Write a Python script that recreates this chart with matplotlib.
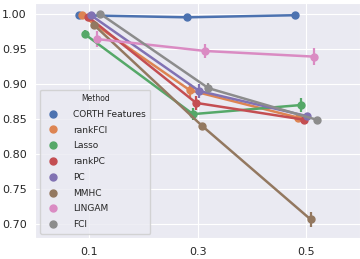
import matplotlib
matplotlib.use("Agg")
import matplotlib.pyplot as plt
import numpy as np
import seaborn as sns

sns.set_style("darkgrid")

noise = ["0.1", "0.3", "0.5"]
methods = ["CORTH Features", "rankFCI", "Lasso", "rankPC", "PC", "MMHC", "LINGAM", "FCI"]
colors = ["#4C72B0", "#DD8452", "#55A868", "#C44E52", "#8172B3", "#937860", "#DA8BC3", "#8C8C8C"]

# mean score per method at each noise level
means = {
    "CORTH Features": [0.998, 0.995, 0.998],
    "rankFCI": [0.998, 0.891, 0.852],
    "Lasso": [0.971, 0.857, 0.870],
    "rankPC": [0.996, 0.873, 0.849],
    "PC": [0.998, 0.890, 0.854],
    "MMHC": [0.984, 0.840, 0.707],
    "LINGAM": [0.964, 0.947, 0.939],
    "FCI": [1.000, 0.894, 0.849],
}
# half-width of the error bars
errs = {
    "CORTH Features": [0.001, 0.001, 0.001],
    "rankFCI": [0.002, 0.009, 0.004],
    "Lasso": [0.006, 0.009, 0.010],
    "rankPC": [0.003, 0.010, 0.005],
    "PC": [0.002, 0.010, 0.004],
    "MMHC": [0.004, 0.004, 0.011],
    "LINGAM": [0.011, 0.010, 0.012],
    "FCI": [0.002, 0.008, 0.002],
}

fig, ax = plt.subplots(figsize=(3.6, 2.59), dpi=100)
x = np.arange(len(noise))
offsets = np.linspace(-0.1, 0.1, len(methods))

for m, c, off in zip(methods, colors, offsets):
    ax.errorbar(x + off, means[m], yerr=errs[m], color=c, marker="o",
                markersize=5, linewidth=1.8, elinewidth=1.6, capsize=0, label=m)

ax.set_xticks(x)
ax.set_xticklabels(noise)
ax.set_xlim(-0.5, 2.5)
ax.set_ylim(0.68, 1.016)
ax.set_yticks([0.70, 0.75, 0.80, 0.85, 0.90, 0.95, 1.00])
ax.tick_params(labelsize=8, length=0, pad=6)

handles = [plt.Line2D([], [], marker="o", linestyle="", color=c, markersize=5) for c in colors]
leg = ax.legend(handles, methods, title="Method", loc="lower left", fontsize=6.5,
                title_fontsize=5.5, handletextpad=1.2, labelspacing=0.75, borderpad=0.5)

fig.subplots_adjust(left=0.098, right=1.0, top=0.99, bottom=0.08)
fig.savefig("out.png")
